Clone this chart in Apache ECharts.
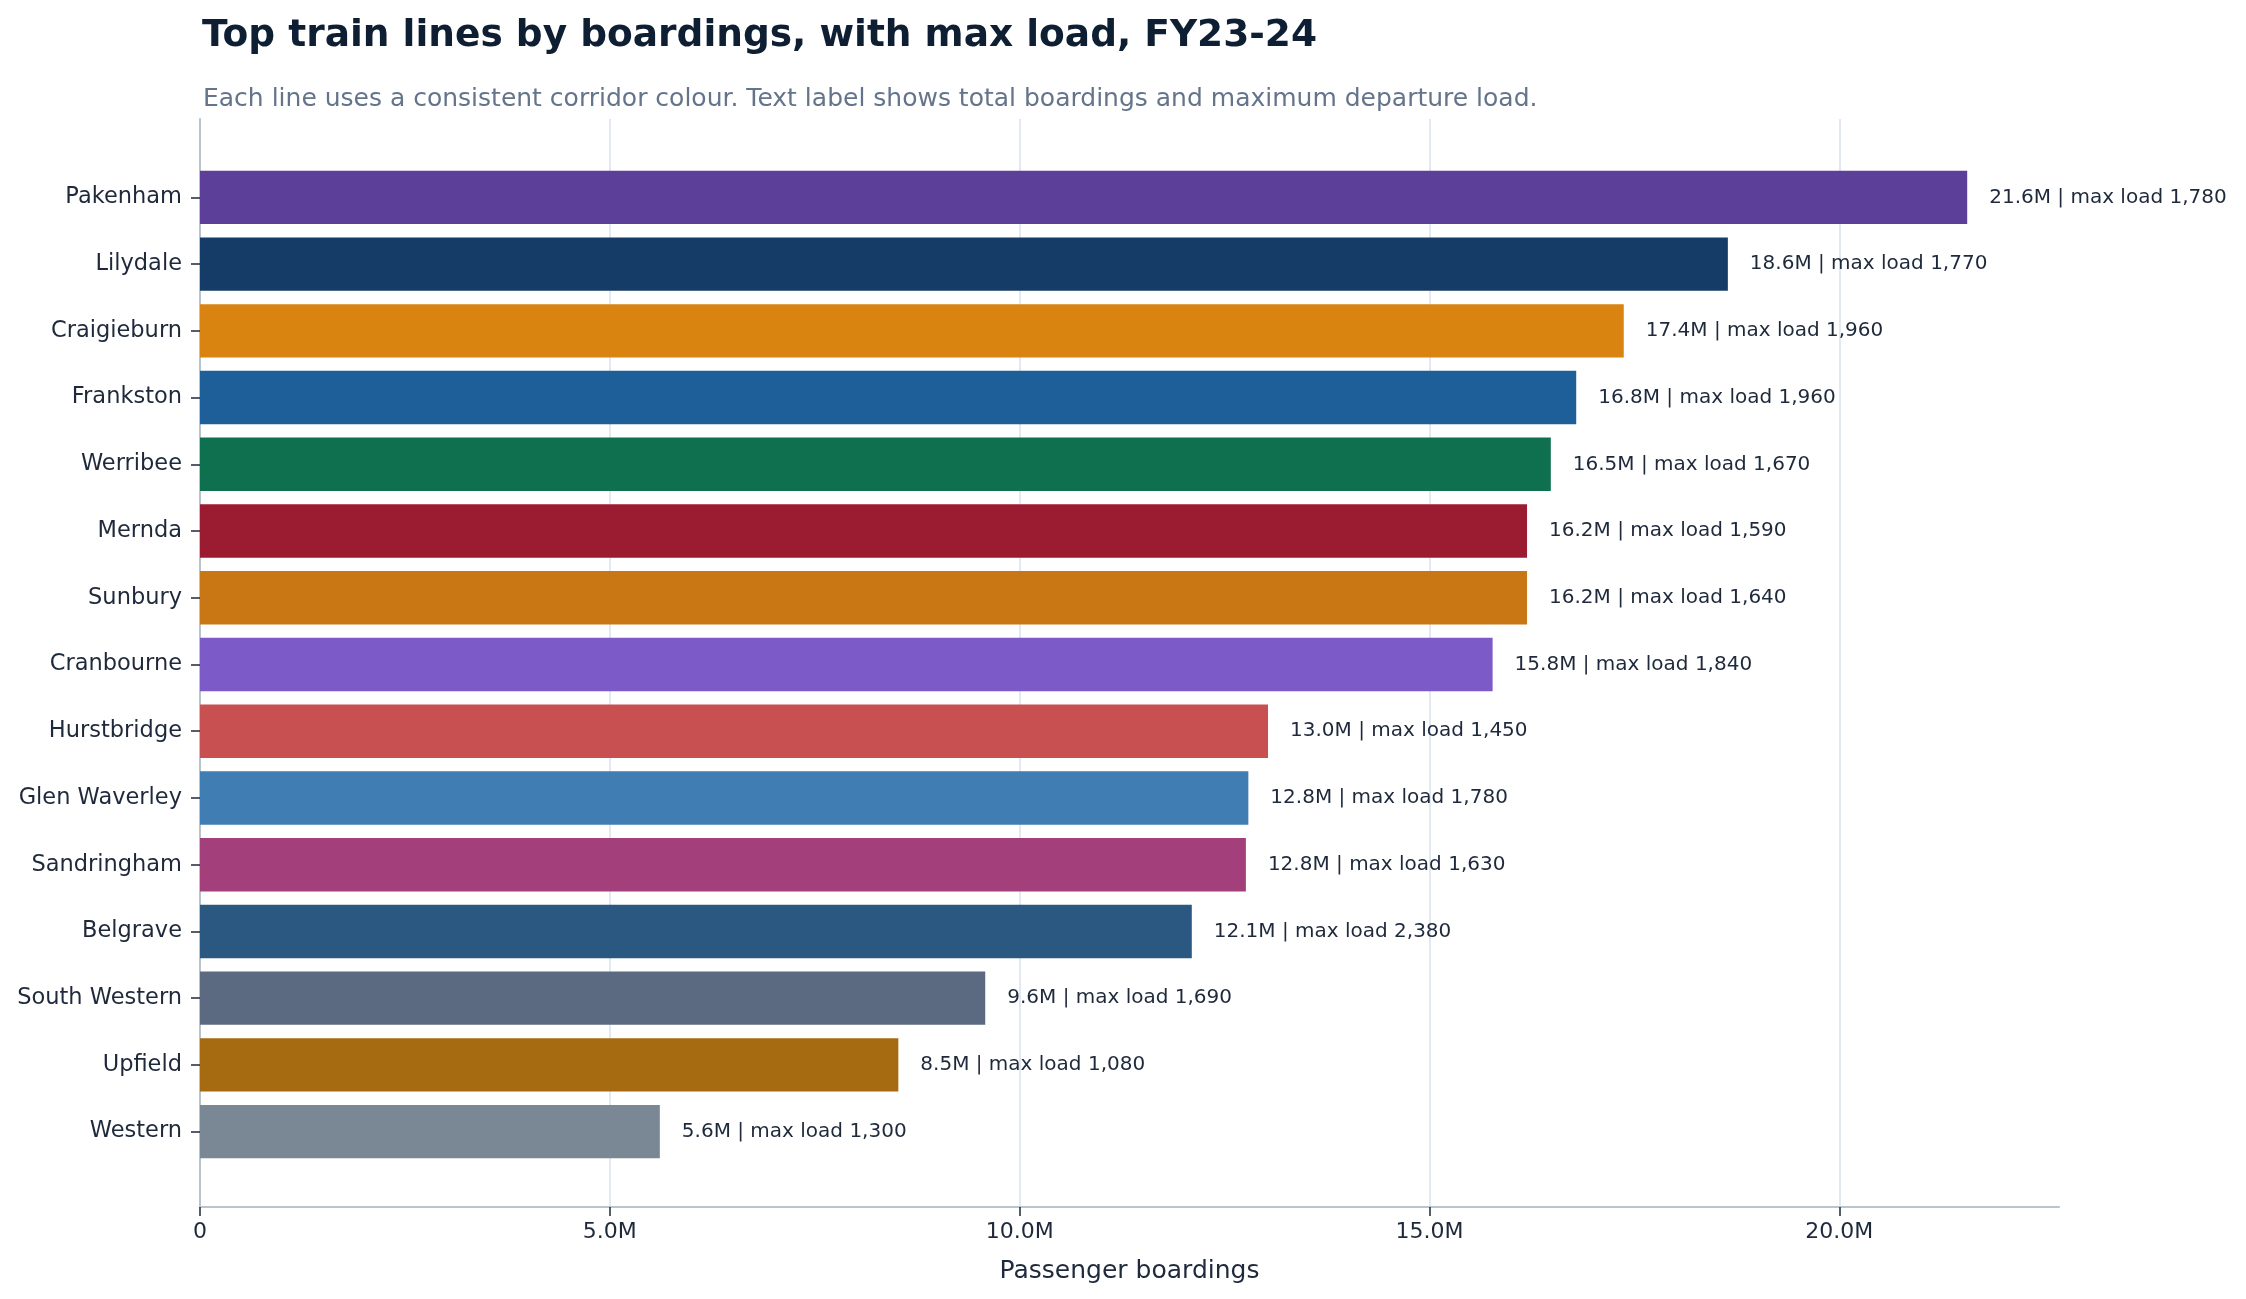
<!DOCTYPE html>
<html>
<head>
<meta charset="utf-8">
<script src="https://cdn.jsdelivr.net/npm/echarts@6/dist/echarts.min.js"></script>
<style>
  html, body { margin: 0; padding: 0; background: #ffffff; }
  #chart { width: 2246px; height: 1299px; }
</style>
</head>
<body>
<div id="chart"></div>
<script>
// train lines, top to bottom
const lines = [
  'Pakenham', 'Lilydale', 'Craigieburn', 'Frankston', 'Werribee',
  'Mernda', 'Sunbury', 'Cranbourne', 'Hurstbridge', 'Glen Waverley',
  'Sandringham', 'Belgrave', 'South Western', 'Upfield', 'Western'
];
// boardings in millions
const boardings = [
  21.56, 18.64, 17.37, 16.79, 16.48,
  16.19, 16.19, 15.77, 13.03, 12.79,
  12.76, 12.10, 9.58, 8.52, 5.61
];
const maxLoad = [
  1780, 1770, 1960, 1960, 1670,
  1590, 1640, 1840, 1450, 1780,
  1630, 2380, 1690, 1080, 1300
];
const corridorColours = [
  '#5b3f99', '#143c66', '#d98310', '#1f5f99', '#0f7050',
  '#9b1c31', '#c87714', '#7c5ac8', '#c85050', '#3f7db3',
  '#a33f7a', '#2a5880', '#5b6a80', '#a66b10', '#7a8794'
];
const xTicks = [0, 5, 10, 15, 20];

const FONT = 'DejaVu Sans';
const INK = '#1e293b';
const xMax = 22.68;

const chart = echarts.init(document.getElementById('chart'));

const option = {
  backgroundColor: '#ffffff',
  animation: false,
  textStyle: { fontFamily: FONT },
  title: [
    {
      text: 'Top train lines by boardings, with max load, FY23-24',
      left: 197,
      top: 12,
      textStyle: { fontFamily: FONT, fontSize: 37.5, fontWeight: 'bold', color: '#0f1f33' }
    },
    {
      text: 'Each line uses a consistent corridor colour. Text label shows total boardings and maximum departure load.',
      left: 198,
      top: 82,
      textStyle: { fontFamily: FONT, fontSize: 25, fontWeight: 'normal', color: '#64748b' }
    }
  ],
  grid: [
    // frame: spines, gridlines, x axis
    { left: 200, right: 187, top: 119, bottom: 92 },
    // bars: category bands
    { left: 200, right: 187, top: 164, bottom: 134 }
  ],
  xAxis: [
    {
      type: 'value',
      gridIndex: 0,
      min: 0,
      max: xMax,
      axisLine: { show: true, lineStyle: { color: '#b8c4d0', width: 2 } },
      axisTick: {
        show: true, length: 9, customValues: xTicks,
        lineStyle: { color: INK, width: 1.5 }
      },
      axisLabel: {
        customValues: xTicks,
        fontFamily: FONT, fontSize: 22, color: INK, margin: 14,
        formatter: (v) => (v === 0 ? '0' : v.toFixed(1) + 'M')
      },
      splitLine: { show: true, lineStyle: { color: '#e3e9f2', width: 2 } },
      name: 'Passenger boardings',
      nameLocation: 'middle',
      nameGap: 52,
      nameTextStyle: { fontFamily: FONT, fontSize: 25, color: INK }
    },
    {
      type: 'value',
      gridIndex: 1,
      min: 0,
      max: xMax,
      show: false
    }
  ],
  yAxis: [
    {
      type: 'value',
      gridIndex: 0,
      min: 0,
      max: 1,
      axisLine: { show: true, lineStyle: { color: '#b8c4d0', width: 2 } },
      axisTick: { show: false },
      axisLabel: { show: false },
      splitLine: { show: false }
    },
    {
      type: 'category',
      gridIndex: 1,
      inverse: true,
      data: lines,
      axisLine: { show: false },
      axisTick: { show: true, alignWithLabel: true, length: 9, lineStyle: { color: INK, width: 1.5 } },
      axisLabel: { fontFamily: FONT, fontSize: 22.5, color: INK, margin: 18 }
    }
  ],
  series: [
    {
      name: 'Boardings',
      type: 'bar',
      xAxisIndex: 1,
      yAxisIndex: 1,
      barWidth: '80%',
      data: boardings.map((v, i) => ({
        value: v,
        itemStyle: { color: corridorColours[i] }
      })),
      label: {
        show: true,
        position: 'right',
        distance: 22,
        fontFamily: FONT,
        fontSize: 20,
        color: INK,
        formatter: (p) => p.value.toFixed(1) + 'M | max load ' + maxLoad[p.dataIndex].toLocaleString('en-US')
      }
    }
  ]
};

chart.setOption(option);
</script>
</body>
</html>
